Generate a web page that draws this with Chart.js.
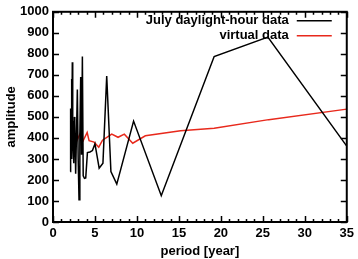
<!DOCTYPE html>
<html>
<head>
<meta charset="utf-8">
<script src="https://cdn.jsdelivr.net/npm/chart.js@4/dist/chart.umd.min.js"></script>
<style>
  html, body { margin: 0; padding: 0; background: #fff; }
  #wrap { width: 358px; height: 259px; }
</style>
</head>
<body>
<div id="wrap"><canvas id="chart"></canvas></div>
<script>
// July daylight-hour data (period in years, amplitude)
const julyPeriod = [2.05, 2.1, 2.15, 2.2, 2.25, 2.3, 2.35, 2.4, 2.45, 2.5, 2.55, 2.6, 2.7, 2.8, 2.9, 3.0, 3.1, 3.2, 3.3, 3.4, 3.5, 3.6, 3.75, 3.9, 4.1, 4.4, 4.7, 5.0, 5.5, 5.95, 6.4, 6.9, 7.6, 9.6, 12.9, 19.2, 25.6, 35];
const julyAmp    = [240, 540, 400, 680, 300, 760, 430, 350, 480, 280, 500, 470, 230, 420, 630, 300, 106, 420, 690, 320, 787, 220, 208, 210, 330, 333, 340, 372, 256, 280, 694, 240, 180, 480, 125, 787, 880, 361];

// virtual data
const virtualPeriod = [2.1, 2.3, 2.45, 2.7, 3.0, 3.2, 3.6, 4.07, 4.3, 4.9, 5.45, 5.9, 7.0, 7.75, 8.5, 9.5, 11.0, 15.2, 19.2, 25.7, 35];
const virtualAmp    = [418, 389, 408, 376, 400, 418, 387, 426, 387, 380, 356, 389, 418, 403, 418, 375, 410, 434, 446, 487, 537];

const xTicks = [0, 5, 10, 15, 20, 25, 30, 35];
const yTicks = [0, 100, 200, 300, 400, 500, 600, 700, 800, 900, 1000];

const seriesNames = ['July daylight-hour data', 'virtual data'];
const seriesColors = ['#000000', '#e8291c'];

const FONT = '"Liberation Sans", Arial, sans-serif';

const toPoints = (xs, ys) => xs.map((x, i) => ({ x, y: ys[i] }));

// gnuplot-like frame with inward ticks on all four sides
const framePlugin = {
    id: 'frame',
    afterDatasetsDraw(chart) {
        const { ctx, chartArea: a, scales } = chart;
        ctx.save();
        ctx.strokeStyle = '#000';
        ctx.lineWidth = 1.5;
        ctx.beginPath();
        for (let v = 0; v <= 35; v++) {
            const px = Math.round(scales.x.getPixelForValue(v)) + 0.5;
            const len = v % 5 === 0 ? 6 : 3;
            ctx.moveTo(px, a.bottom); ctx.lineTo(px, a.bottom - len);
            ctx.moveTo(px, a.top); ctx.lineTo(px, a.top + len);
        }
        yTicks.forEach(v => {
            const py = Math.round(scales.y.getPixelForValue(v)) + 0.5;
            ctx.moveTo(a.left, py); ctx.lineTo(a.left + 6, py);
            ctx.moveTo(a.right, py); ctx.lineTo(a.right - 6, py);
        });
        ctx.stroke();
        ctx.lineWidth = 2;
        ctx.strokeRect(a.left, a.top, a.right - a.left, a.bottom - a.top);
        ctx.restore();
    }
};

// legend: right-aligned text followed by a line sample
const legendPlugin = {
    id: 'sideLegend',
    afterDatasetsDraw(chart) {
        const { ctx, chartArea: a } = chart;
        ctx.save();
        ctx.font = 'bold 13px ' + FONT;
        ctx.textAlign = 'right';
        ctx.textBaseline = 'middle';
        chart.data.datasets.forEach((ds, i) => {
            const y = a.top + 9 + i * 15;
            ctx.fillStyle = '#000';
            ctx.fillText(ds.label, a.right - 58, y);
            ctx.strokeStyle = ds.borderColor;
            ctx.lineWidth = 1.5;
            ctx.beginPath();
            ctx.moveTo(a.right - 50, y);
            ctx.lineTo(a.right - 15, y);
            ctx.stroke();
        });
        ctx.restore();
    }
};

new Chart(document.getElementById('chart'), {
    type: 'line',
    data: {
        datasets: [
            { label: seriesNames[0], data: toPoints(julyPeriod, julyAmp), borderColor: seriesColors[0], borderWidth: 1.5, pointRadius: 0, tension: 0 },
            { label: seriesNames[1], data: toPoints(virtualPeriod, virtualAmp), borderColor: seriesColors[1], borderWidth: 1.5, pointRadius: 0, tension: 0 }
        ]
    },
    options: {
        responsive: true,
        maintainAspectRatio: false,
        animation: false,
        layout: { padding: { top: 6, right: 5, left: 0, bottom: 0 } },
        plugins: { legend: { display: false }, tooltip: { enabled: false } },
        scales: {
            x: {
                type: 'linear', min: 0, max: 35,
                afterBuildTicks: s => { s.ticks = xTicks.map(v => ({ value: v })); },
                afterFit: s => { s.height = 37; },
                grid: { display: false, drawTicks: false },
                border: { display: false },
                ticks: { color: '#000', padding: 4, callback: v => String(v), font: { family: FONT, weight: 'bold', size: 13 } },
                title: { display: true, text: 'period [year]', color: '#000', padding: { top: 1, bottom: 0 }, font: { family: FONT, weight: 'bold', size: 13 } }
            },
            y: {
                type: 'linear', min: 0, max: 1000,
                afterBuildTicks: s => { s.ticks = yTicks.map(v => ({ value: v })); },
                afterFit: s => { s.width = 53; },
                grid: { display: false, drawTicks: false },
                border: { display: false },
                ticks: { color: '#000', padding: 4, callback: v => String(v), font: { family: FONT, weight: 'bold', size: 13 } },
                title: { display: true, text: 'amplitude', color: '#000', padding: { top: 4, bottom: 0 }, font: { family: FONT, weight: 'bold', size: 13 } }
            }
        }
    },
    plugins: [framePlugin, legendPlugin]
});
</script>
</body>
</html>
